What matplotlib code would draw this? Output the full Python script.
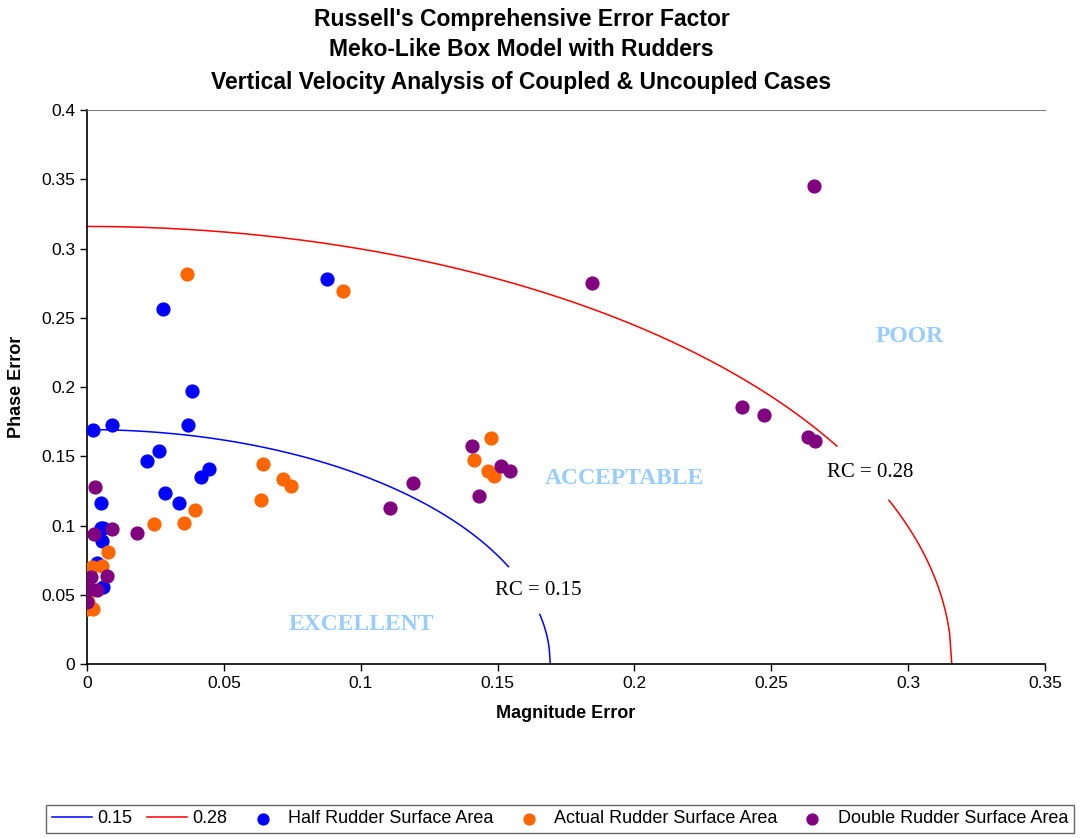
import numpy as np
import matplotlib
matplotlib.use("Agg")
import matplotlib.pyplot as plt

plt.rcParams['font.family'] = ['Liberation Sans', 'DejaVu Sans']

# data
half_mag = [0.0023, 0.0092, 0.0382, 0.037, 0.0218, 0.0264, 0.0444, 0.0418, 0.0286,
            0.0337, 0.0051, 0.0051, 0.0056, 0.0035, 0.006, 0.0, 0.0276, 0.0878, 0.006]
half_ph = [0.169, 0.1726, 0.1973, 0.1723, 0.1466, 0.1538, 0.1406, 0.135, 0.1235,
           0.1165, 0.1165, 0.098, 0.089, 0.0727, 0.0554, 0.0522, 0.2563, 0.278, 0.098]

act_mag = [0.0395, 0.0354, 0.0245, 0.0077, 0.0056, 0.0017, 0.0, 0.0023, 0.0364, 0.0935,
           0.0643, 0.0636, 0.0716, 0.0745, 0.1476, 0.1414, 0.1464, 0.1487, 0.0, 0.0005]
act_ph = [0.1114, 0.1018, 0.1009, 0.0811, 0.071, 0.0703, 0.040, 0.0397, 0.2814, 0.2695,
          0.1444, 0.1184, 0.1336, 0.1285, 0.163, 0.1473, 0.1393, 0.136, 0.05, 0.045]

dbl_mag = [0.0029, 0.0092, 0.0024, 0.0181, 0.0072, 0.0013, 0.0038, 0.0011, 0.0001,
           0.1408, 0.1513, 0.1545, 0.1433, 0.1192, 0.1108, 0.1845, 0.2656, 0.2394,
           0.2472, 0.2633, 0.2661]
dbl_ph = [0.1276, 0.0977, 0.0939, 0.0946, 0.0633, 0.063, 0.0534, 0.0539, 0.0445,
          0.1576, 0.1432, 0.1391, 0.1215, 0.1309, 0.1124, 0.275, 0.3454, 0.1858,
          0.1796, 0.1637, 0.1608]

# RC levels, and the magnitude ranges where the arc is broken for its label
rc_levels = [0.15, 0.28]
rc_colors = ['#0000FF', '#FF0000']
rc_gaps = [(0.1540, 0.1653), (0.2747, 0.2922)]

fig = plt.figure(figsize=(10.84, 8.38), dpi=100)
ax = fig.add_axes([0.0803, 0.2076, 0.8837, 0.6611])

for rc, col, gap in zip(rc_levels, rc_colors, rc_gaps):
    r = rc / np.sqrt(np.pi / 4)
    m = np.linspace(0, r, 400)
    p = np.sqrt(np.clip(r**2 - m**2, 0, None))
    m1, p1 = m[m <= gap[0]], p[m <= gap[0]]
    m2, p2 = m[m >= gap[1]], p[m >= gap[1]]
    ax.plot(m1, p1, color=col, lw=1.1, label=str(rc))
    ax.plot(np.append(m2, r), np.append(p2, 0), color=col, lw=1.1)

ax.scatter(half_mag, half_ph, s=85, color='#0000FF', label='Half Rudder Surface Area', zorder=3)
ax.scatter(act_mag, act_ph, s=85, color='#FF6600', label='Actual Rudder Surface Area', zorder=3)
ax.scatter(dbl_mag, dbl_ph, s=85, color='#800080', label='Double Rudder Surface Area', zorder=3)

ax.set_xlim(0, 0.35)
ax.set_ylim(0, 0.4)
ax.set_xticks(np.arange(0, 0.351, 0.05))
ax.set_yticks(np.arange(0, 0.401, 0.05))
ax.set_xticklabels(['0', '0.05', '0.1', '0.15', '0.2', '0.25', '0.3', '0.35'])
ax.set_yticklabels(['0', '0.05', '0.1', '0.15', '0.2', '0.25', '0.3', '0.35', '0.4'])
ax.tick_params(labelsize=12.5, direction='out', length=5, width=1)
ax.spines['right'].set_visible(False)
ax.spines['top'].set_color('#808080')
ax.spines['left'].set_linewidth(1.2)
ax.spines['bottom'].set_linewidth(1.2)

ax.set_xlabel('Magnitude Error', fontsize=13, fontweight='bold', labelpad=10)
ax.set_ylabel('Phase Error', fontsize=13, fontweight='bold', labelpad=12)

fig.text(0.481, 0.977, "Russell's Comprehensive Error Factor", ha='center', va='center',
         fontsize=16.5, fontweight='bold')
fig.text(0.481, 0.941, "Meko-Like Box Model with Rudders", ha='center', va='center',
         fontsize=16.5, fontweight='bold')
fig.text(0.481, 0.902, "Vertical Velocity Analysis of Coupled & Uncoupled Cases", ha='center',
         va='center', fontsize=16.5, fontweight='bold')

serif = ['Liberation Serif', 'DejaVu Serif']
zone_col = '#99CCFF'
ax.text(0.1002, 0.0289, 'EXCELLENT', family=serif, color=zone_col, fontsize=17,
        fontweight='bold', ha='center', va='center')
ax.text(0.1962, 0.1343, 'ACCEPTABLE', family=serif, color=zone_col, fontsize=17,
        fontweight='bold', ha='center', va='center')
ax.text(0.3007, 0.2362, 'POOR', family=serif, color=zone_col, fontsize=17,
        fontweight='bold', ha='center', va='center')
ax.text(0.1648, 0.0534, 'RC = 0.15', family=serif, fontsize=15, ha='center', va='center')
ax.text(0.2861, 0.1384, 'RC = 0.28', family=serif, fontsize=15, ha='center', va='center')

leg = fig.legend(loc='center', bbox_to_anchor=(0.5166, 0.0227), ncol=5, fontsize=13,
                 frameon=True, fancybox=False, edgecolor='#404040', handlelength=2.2,
                 handletextpad=0.3, columnspacing=0.85, borderpad=0.3, borderaxespad=0,
                 markerscale=0.85)
leg.get_frame().set_linewidth(1)

fig.savefig('out.png', dpi=100)
